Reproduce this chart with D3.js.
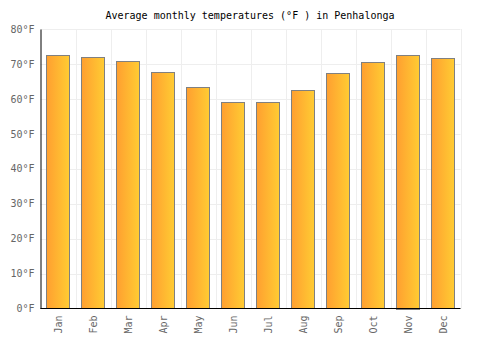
<!DOCTYPE html>
<html lang="en">
<head>
<meta charset="utf-8">
<script src="https://d3js.org/d3.v7.min.js"></script>
<style>
  body { margin: 0; background: #fff; }
  text { font-family: "DejaVu Sans Mono", monospace; }
</style>
</head>
<body>
<svg width="500" height="350"></svg>
<script>
var months = ["Jan", "Feb", "Mar", "Apr", "May", "Jun", "Jul", "Aug", "Sep", "Oct", "Nov", "Dec"];
var temps = [72.5, 71.9, 70.7, 67.6, 63.3, 59.0, 59.0, 62.5, 67.3, 70.5, 72.7, 71.6];
var yTicks = [0, 10, 20, 30, 40, 50, 60, 70, 80];

var svg = d3.select("svg");
var plotLeft = 40.5, plotRight = 460.5, plotTop = 29, plotBottom = 308.5;

var x = d3.scaleBand().domain(months).range([plotLeft, plotRight]).paddingInner(0.33).paddingOuter(0.165);
var band = d3.scaleBand().domain(months).range([plotLeft, plotRight]);
var y = d3.scaleLinear().domain([0, 80]).range([plotBottom, plotTop]);

// gradient for the bars
var grad = svg.append("defs").append("linearGradient")
  .attr("id", "barGrad").attr("x1", "0%").attr("x2", "100%").attr("y1", "0%").attr("y2", "0%");
grad.append("stop").attr("offset", "0%").attr("stop-color", "#ff9f30");
grad.append("stop").attr("offset", "100%").attr("stop-color", "#ffcc33");

// grid
svg.append("g").selectAll("line.h")
  .data(yTicks.slice(1))
  .enter().append("line")
  .attr("x1", plotLeft).attr("x2", plotRight)
  .attr("y1", function (d) { return Math.round(y(d)) + 0.5; })
  .attr("y2", function (d) { return Math.round(y(d)) + 0.5; })
  .attr("stroke", "#eeeeee");
svg.append("g").selectAll("line.v")
  .data(months)
  .enter().append("line")
  .attr("x1", function (d) { return Math.round(band(d) + band.bandwidth()) + 0.5; })
  .attr("x2", function (d) { return Math.round(band(d) + band.bandwidth()) + 0.5; })
  .attr("y1", plotTop).attr("y2", plotBottom)
  .attr("stroke", "#eeeeee");

// bars
svg.selectAll(".bar")
  .data(temps)
  .enter().append("rect")
  .attr("class", "bar")
  .attr("x", function (d, i) { return Math.round(x(months[i])) + 0.5; })
  .attr("y", function (d) { return Math.round(y(d)) + 0.5; })
  .attr("width", Math.round(x.bandwidth()))
  .attr("height", function (d) { return Math.round(plotBottom - y(d)); })
  .attr("fill", "url(#barGrad)")
  .attr("stroke", "#808080")
  .attr("stroke-width", 1);

// y axis
var yAxis = svg.append("g")
  .attr("transform", "translate(" + plotLeft + ",0)")
  .call(d3.axisLeft(y).tickValues(yTicks).tickSize(0).tickPadding(6)
    .tickFormat(function (d) { return d + "°F"; }));
yAxis.select(".domain").attr("stroke", "#000");
yAxis.selectAll("text").attr("fill", "#666").style("font-size", "10px")
  .style("font-family", "DejaVu Sans Mono, monospace");

// x axis
var xAxis = svg.append("g")
  .attr("transform", "translate(0," + plotBottom + ")")
  .call(d3.axisBottom(band).tickSize(0).tickPadding(6));
xAxis.select(".domain").attr("stroke", "#000").attr("d", "M" + plotLeft + ",0H" + plotRight);
xAxis.selectAll("text")
  .attr("fill", "#666").style("font-size", "10px")
  .style("font-family", "DejaVu Sans Mono, monospace")
  .attr("transform", "rotate(-90)")
  .attr("text-anchor", "end")
  .attr("x", -7).attr("y", 0).attr("dy", "0.35em");

// title
svg.append("text")
  .attr("x", 250).attr("y", 19)
  .attr("text-anchor", "middle")
  .attr("font-size", "10px")
  .attr("fill", "#000")
  .text("Average monthly temperatures (°F ) in Penhalonga");
</script>
</body>
</html>
